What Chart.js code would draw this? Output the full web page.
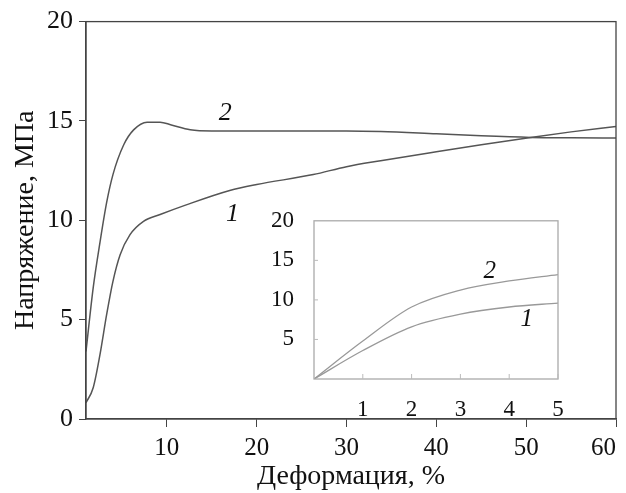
<!DOCTYPE html>
<html>
<head>
<meta charset="utf-8">
<script src="https://cdn.jsdelivr.net/npm/chart.js@4"></script>
<style>
  html, body { margin: 0; padding: 0; background: #fff; }
  #wrap { position: relative; width: 626px; height: 493px; }
  #mainChart { position: absolute; left: 0; top: 0; }
  #insetChart { position: absolute; left: 250px; top: 195px; }
</style>
</head>
<body>
<div id="wrap">
  <canvas id="mainChart" width="626" height="493"></canvas>
  <canvas id="insetChart" width="330" height="225"></canvas>
</div>
<script>
// main plot: deformation (%) vs stress (MPa)
const strain2 = [1, 1.8, 2.56, 3.3, 4.0, 5.2, 6.3, 7.8, 9.25, 10.5, 12.6, 15, 20, 25, 30, 33.8, 40, 45, 50.5, 55, 60];
const stress2 = [3.4, 6.6, 8.9, 10.9, 12.3, 13.8, 14.55, 14.94, 14.94, 14.8, 14.56, 14.5, 14.5, 14.5, 14.5, 14.47, 14.35, 14.25, 14.17, 14.15, 14.14];
const strain1 = [1, 1.8, 2.56, 3.3, 4.0, 4.8, 5.9, 7.4, 9.25, 12, 17, 20, 26.3, 30, 33.8, 40, 45, 50.5, 55, 60];
const stress1 = [0.82, 1.57, 3.25, 5.26, 6.93, 8.27, 9.28, 9.95, 10.29, 10.75, 11.5, 11.8, 12.3, 12.7, 13.0, 13.45, 13.8, 14.17, 14.45, 14.72];
const strainTicks = [1, 10, 20, 30, 40, 50, 60]; // 1 = axis start, unlabeled

// inset: first 5 %
const insetStrain = [0, 1, 2, 3, 4, 5];
const insetStress2 = [0, 4.8, 9.1, 11.25, 12.4, 13.2];
const insetStress1 = [0, 3.6, 6.6, 8.2, 9.1, 9.6];

// curve labels [x, y, text]
const mainLabels = [[16.5, 15.4, '2'], [17.3, 10.3, '1']];
const insetLabels = [[3.6, 13.6, '2'], [4.36, 7.5, '1']];

const serif = "'Liberation Serif', 'DejaVu Serif', serif";

function pts(xs, ys) {
    return xs.map((x, i) => ({ x: x, y: ys[i] }));
}

// draws the frame and the italic curve numbers
function framePlugin(frameColor, labels, fontSize) {
    return {
        id: 'frame',
        afterDatasetsDraw(chart) {
            const { ctx, chartArea: a, scales } = chart;
            ctx.save();
            ctx.strokeStyle = frameColor;
            ctx.lineWidth = 1.3;
            ctx.strokeRect(a.left, a.top, a.right - a.left, a.bottom - a.top);
            ctx.fillStyle = '#111';
            ctx.font = 'italic ' + fontSize + 'px ' + serif;
            ctx.textAlign = 'center';
            ctx.textBaseline = 'middle';
            labels.forEach(l => {
                ctx.fillText(l[2], scales.x.getPixelForValue(l[0]), scales.y.getPixelForValue(l[1]));
            });
            ctx.restore();
        }
    };
}

const lineStyle = {
    borderWidth: 1.5,
    pointRadius: 0,
    fill: false,
    tension: 0.4,
    cubicInterpolationMode: 'monotone'
};

new Chart(document.getElementById('mainChart'), {
    type: 'line',
    data: {
        datasets: [
            Object.assign({ data: pts(strain2, stress2), borderColor: '#555' }, lineStyle),
            Object.assign({ data: pts(strain1, stress1), borderColor: '#555' }, lineStyle)
        ]
    },
    options: {
        responsive: false,
        animation: false,
        devicePixelRatio: 1,
        layout: { padding: { top: 20, right: 10, left: 0, bottom: 0 } },
        plugins: { legend: { display: false }, tooltip: { enabled: false } },
        scales: {
            x: {
                type: 'linear',
                min: 1,
                max: 60,
                afterBuildTicks: s => { s.ticks = strainTicks.map(v => ({ value: v })); },
                afterFit: s => { s.height = 74; s.paddingRight = 0; s.paddingLeft = 0; },
                border: { color: '#444', width: 1.3 },
                grid: {
                    drawOnChartArea: false, tickLength: 8,
                    color: c => (c.tick && c.tick.value === 1 ? 'rgba(0,0,0,0)' : '#444')
                },
                ticks: {
                    color: '#111', font: { family: serif, size: 25 }, padding: 6, maxRotation: 0, align: 'inner',
                    callback: v => (v === 1 ? '' : v)
                },
                title: { display: true, text: 'Деформация, %', color: '#111', font: { family: serif, size: 28 }, padding: { top: 0, bottom: 0 } }
            },
            y: {
                min: 0,
                max: 20,
                afterFit: s => { s.width = 86; },
                border: { color: '#444', width: 1.3 },
                grid: { drawOnChartArea: false, tickLength: 7, color: '#444' },
                ticks: { stepSize: 5, color: '#111', font: { family: serif, size: 26 }, padding: 6 },
                title: { display: true, text: 'Напряжение, МПа', color: '#111', font: { family: serif, size: 28 }, padding: { top: 9, bottom: 0 } }
            }
        }
    },
    plugins: [framePlugin('#444', mainLabels, 26)]
});

// inner ticks of the inset
const innerTicks = {
    id: 'innerTicks',
    afterDraw(chart) {
        const { ctx, chartArea: a, scales } = chart;
        ctx.save();
        ctx.strokeStyle = '#bbb';
        ctx.lineWidth = 1;
        ctx.beginPath();
        insetStrain.slice(1).forEach(v => {
            const x = scales.x.getPixelForValue(v);
            ctx.moveTo(x, a.bottom);
            ctx.lineTo(x, a.bottom - 5);
        });
        [5, 10, 15].forEach(v => {
            const y = scales.y.getPixelForValue(v);
            ctx.moveTo(a.left, y);
            ctx.lineTo(a.left + 4, y);
        });
        ctx.stroke();
        ctx.restore();
    }
};

new Chart(document.getElementById('insetChart'), {
    type: 'line',
    data: {
        datasets: [
            Object.assign({ data: pts(insetStrain, insetStress2), borderColor: '#999' }, lineStyle, { borderWidth: 1.3 }),
            Object.assign({ data: pts(insetStrain, insetStress1), borderColor: '#999' }, lineStyle, { borderWidth: 1.3 })
        ]
    },
    options: {
        responsive: false,
        animation: false,
        devicePixelRatio: 1,
        layout: { padding: { top: 14, right: 22, left: 0, bottom: 0 } },
        plugins: { legend: { display: false }, tooltip: { enabled: false } },
        scales: {
            x: {
                type: 'linear',
                min: 0,
                max: 5,
                afterFit: s => { s.height = 41; },
                border: { display: false },
                grid: { display: false },
                ticks: {
                    stepSize: 1, color: '#111', font: { family: serif, size: 23 }, padding: 9, maxRotation: 0,
                    callback: v => (v === 0 ? '' : v)
                }
            },
            y: {
                min: 0,
                max: 20,
                afterFit: s => { s.width = 64; },
                border: { display: false },
                grid: { display: false },
                ticks: {
                    stepSize: 5, color: '#111', font: { family: serif, size: 23 }, padding: 12,
                    callback: v => (v === 0 ? '' : v)
                }
            }
        }
    },
    plugins: [framePlugin('#aaa', insetLabels, 25), innerTicks]
});
</script>
</body>
</html>
